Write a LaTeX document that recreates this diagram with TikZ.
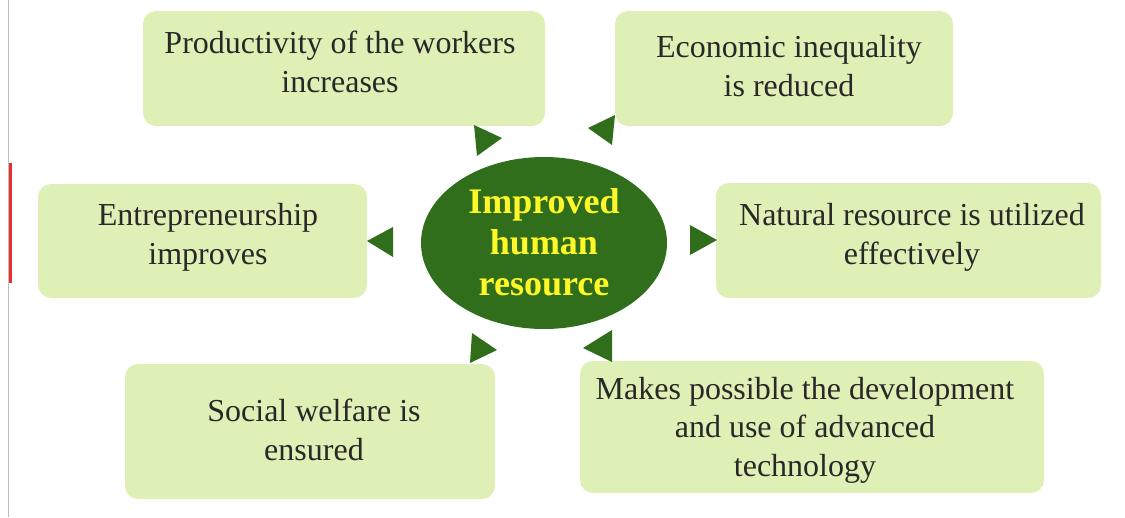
\documentclass[tikz,border=0pt]{standalone}
\usepackage{fontspec}
\setmainfont{Liberation Serif}
\usetikzlibrary{shapes.geometric}
\begin{document}
\definecolor{boxfill}{RGB}{222,240,182}
\definecolor{leaf}{RGB}{49,110,28}
\definecolor{sun}{RGB}{255,248,40}
\definecolor{ink}{RGB}{40,40,40}
\definecolor{edge}{RGB}{190,190,190}
\definecolor{flag}{RGB}{232,48,46}
\begin{tikzpicture}[x=1pt,y=-1pt,
  card/.style={fill=boxfill,draw=none,rounded corners=13pt,inner sep=0pt,outer sep=0pt},
  label/.style={font=\fontsize{32}{38.5}\selectfont,text=ink,align=center,anchor=base,inner sep=0pt},
  hub/.style={ellipse,fill=leaf,draw=none,inner sep=0pt},
  hubtext/.style={font=\fontsize{36}{41}\selectfont\bfseries,text=sun,align=center,anchor=base,inner sep=0pt},
  tip/.style={fill=leaf,draw=none}]
\useasboundingbox (0,0) rectangle (1125,517);

% page edge marks
\draw[edge,line width=1pt] (8.3,0) -- (8.3,517);
\fill[flag] (8.8,163) rectangle (12,283);

% outcome cards
\node[card,minimum width=402pt,minimum height=115pt] (prod) at (344,68.5) {};
\node[card,minimum width=338pt,minimum height=115pt] (econ) at (784,68.5) {};
\node[card,minimum width=329pt,minimum height=114pt] (entr) at (202.5,241) {};
\node[card,minimum width=385pt,minimum height=115pt] (natr) at (908.5,240.5) {};
\node[card,minimum width=370pt,minimum height=135pt] (soc) at (310,431.5) {};
\node[card,minimum width=464pt,minimum height=132pt] (tech) at (812,427) {};

% card texts, placed by the baseline of their last line
\node[label] (prodT) at (340,92) {Productivity of the workers\\increases};
\node[label] (econT) at (789,96) {Economic inequality\\is reduced};
\node[label] (entrT) at (208,264) {Entrepreneurship\\improves};
\node[label] (natrT) at (912,264) {Natural resource is utilized\\effectively};
\node[label] (socT) at (314,460) {Social welfare is\\ensured};
\node[label] (techT) at (805,476) {Makes possible the development\\and use of advanced\\technology};

% central idea
\node[hub,minimum width=246pt,minimum height=172pt] (core) at (544,243) {};
\node[hubtext] (coreT) at (544,295) {Improved\\human\\resource};

% arrow heads pointing outwards
\fill[tip] (474,125) -- (502,138) -- (477,156) -- cycle;
\fill[tip] (615,115) -- (588,128) -- (612,145) -- cycle;
\fill[tip] (393,227) -- (367,241) -- (393,257) -- cycle;
\fill[tip] (690,225) -- (717,240) -- (690,255) -- cycle;
\fill[tip] (472,333) -- (497,350) -- (470,363) -- cycle;
\fill[tip] (612,330) -- (583,348) -- (612,362) -- cycle;
\end{tikzpicture}
\end{document}
